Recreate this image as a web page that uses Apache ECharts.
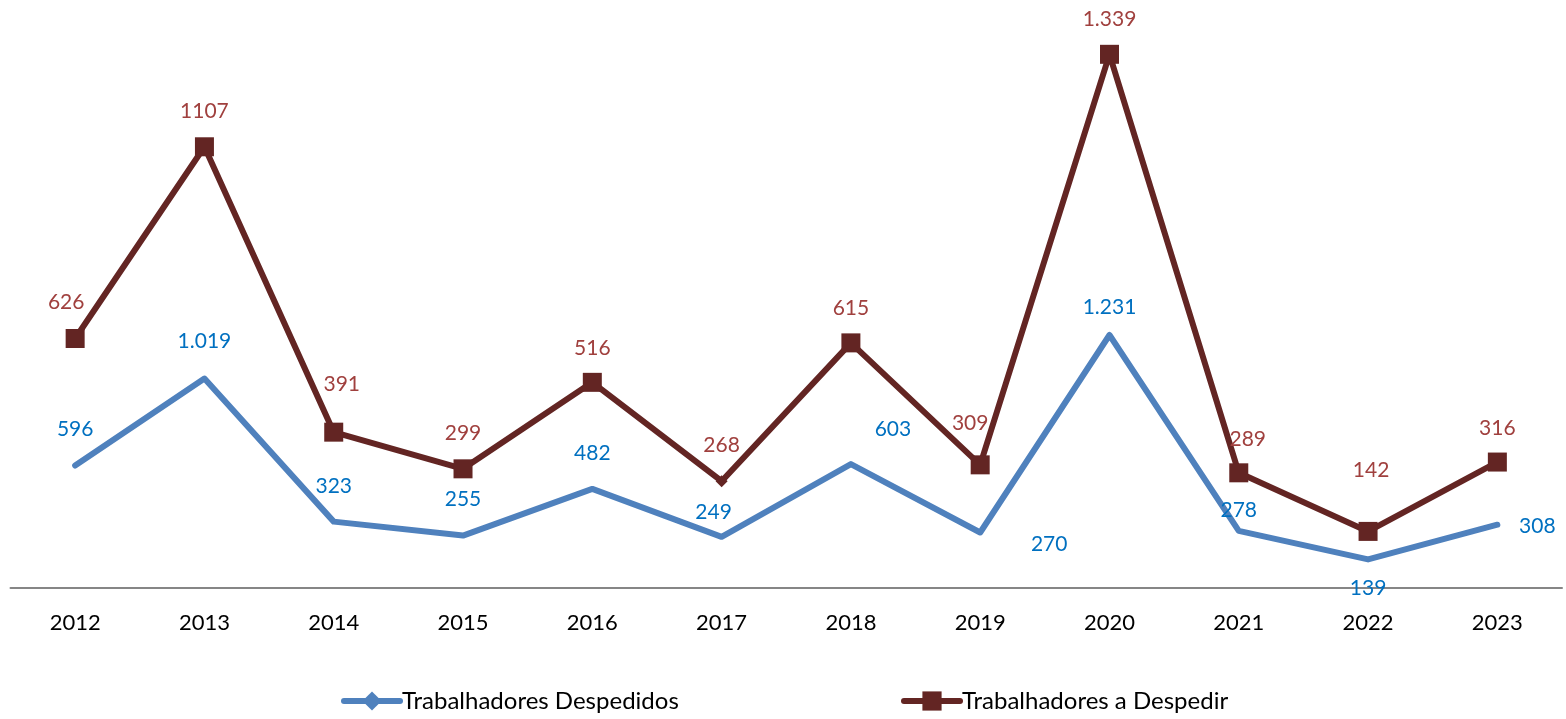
<!DOCTYPE html>
<html>
<head>
<meta charset="utf-8">
<script src="https://cdn.jsdelivr.net/npm/echarts@6/dist/echarts.min.js"></script>
<style>
  html, body { margin: 0; padding: 0; background: #fff; }
  #chart { width: 1566px; height: 719px; }
</style>
</head>
<body>
<div id="chart"></div>
<script>
const years = ['2012', '2013', '2014', '2015', '2016', '2017', '2018', '2019', '2020', '2021', '2022', '2023'];
const despedidos = [596, 1019, 323, 255, 482, 249, 603, 270, 1231, 278, 139, 308];
const aDespedir = [626, 1107, 391, 299, 516, 268, 615, 309, 1339, 289, 142, 316];
// label texts as printed in the source
const despedidosLabels = ['596', '1.019', '323', '255', '482', '249', '603', '270', '1.231', '278', '139', '308'];
const aDespedirLabels = ['626', '1107', '391', '299', '516', '268', '615', '309', '1.339', '289', '142', '316'];

// label offsets (centre of text relative to point)
const blueOffsets = [[0, -36], [0, -37], [0, -35], [0, -36], [0, -36], [-8, -25], [42, -35], [69, 12], [0, -28], [0, -21], [0, 29], [40, 2]];
const redOffsets = [[-9, -36], [0, -36], [8, -48], [0, -36], [0, -34], [0, -36], [0, -35], [-10, -42], [0, -35], [9, -34], [3, -61], [0, -34]];

const font = 'Lato, "Noto Sans", sans-serif';

let chart = echarts.init(document.getElementById('chart'));

let blueData = despedidos.map((v, i) => ({
  value: v,
  label: { offset: blueOffsets[i], formatter: despedidosLabels[i] }
}));
let redData = aDespedir.map((v, i) => {
  let item = {
    value: v,
    label: { offset: redOffsets[i], formatter: aDespedirLabels[i] }
  };
  if (i === 5) {
    item.symbol = 'diamond';
    item.symbolSize = 12;
  }
  return item;
});

const legendBase = {
  top: 689,
  padding: 0,
  itemWidth: 56,
  itemHeight: 24,
  itemGap: 0,
  lineStyle: { width: 6, cap: 'round' },
  textStyle: { fontSize: 24, color: '#000', fontFamily: font, padding: [0, 0, 0, -3] }
};

let option = {
  animation: false,
  textStyle: { fontFamily: font },
  grid: {
    top: 30,
    bottom: 131,
    left: 10.5,
    right: 4,
    containLabel: false
  },
  legend: [
    Object.assign({}, legendBase, { left: 341, data: ['Trabalhadores Despedidos'] }),
    Object.assign({}, legendBase, { left: 901, data: ['Trabalhadores a Despedir'] })
  ],
  xAxis: {
    type: 'category',
    data: years,
    boundaryGap: true,
    axisLine: { lineStyle: { color: '#868686', width: 2 } },
    axisTick: { show: false },
    axisLabel: { color: '#000', fontSize: 22, margin: 24, fontFamily: font }
  },
  yAxis: [
    {
      type: 'value',
      min: 0,
      max: 1400,
      show: false,
      splitLine: { show: false }
    },
    {
      type: 'value',
      min: 0,
      max: 2715,
      show: false,
      splitLine: { show: false }
    }
  ],
  series: [
    {
      name: 'Trabalhadores Despedidos',
      type: 'line',
      yAxisIndex: 1,
      data: blueData,
      symbol: 'diamond',
      symbolSize: 1,
      showSymbol: true,
      lineStyle: { color: '#4F81BD', width: 6, cap: 'round', join: 'round' },
      itemStyle: { color: '#4F81BD' },
      label: {
        show: true,
        position: 'inside',
        color: '#0070C0',
        fontSize: 21,
        fontFamily: font
      },
      z: 2
    },
    {
      name: 'Trabalhadores a Despedir',
      type: 'line',
      yAxisIndex: 0,
      data: redData,
      symbol: 'rect',
      symbolSize: 19,
      lineStyle: { color: '#632523', width: 6 },
      itemStyle: { color: '#632523' },
      label: {
        show: true,
        position: 'inside',
        color: '#A0403E',
        fontSize: 21,
        fontFamily: font
      },
      z: 3
    }
  ]
};

chart.setOption(option);
</script>
</body>
</html>
